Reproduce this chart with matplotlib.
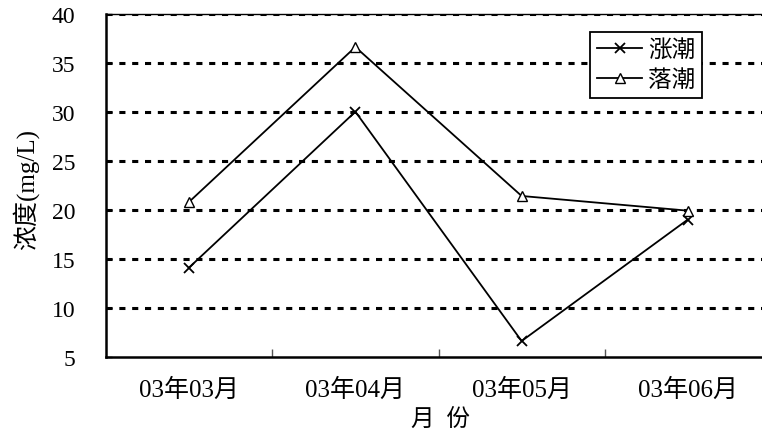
import matplotlib
matplotlib.use("Agg")
import matplotlib.pyplot as plt
from matplotlib.ticker import FixedLocator

categories = ["03年03月", "03年04月", "03年05月", "03年06月"]
flood_tide = [14.1, 30.0, 6.6, 19.0]   # 涨潮
ebb_tide = [20.8, 36.6, 21.4, 19.9]    # 落潮
series_names = ["涨潮", "落潮"]
y_ticks = [5, 10, 15, 20, 25, 30, 35, 40]
x_label = "月  份"
y_label = "浓度(mg/L)"

FAM = ["Liberation Serif", "Noto Sans CJK SC", "DejaVu Sans"]
plt.rcParams["font.family"] = FAM

W, H = 762, 435
fig = plt.figure(figsize=(W / 100, H / 100), dpi=100)
left, right, top, bottom = 106, 771, 14.7, 357.7
ax = fig.add_axes([left / W, 1 - bottom / H, (right - left) / W, (bottom - top) / H])

x = list(range(len(categories)))
ax.plot(x, flood_tide, color="black", lw=1.3, marker="x", ms=7, mew=1.3,
        label=series_names[0], zorder=3)
ax.plot(x, ebb_tide, color="black", lw=1.3, marker="^", ms=7, mew=1.0,
        mfc="white", label=series_names[1], zorder=3)

ax.set_xlim(-0.5, len(categories) - 0.5)
ax.set_ylim(5, 40)
ax.set_yticks(y_ticks)
ax.set_yticklabels([str(v) for v in y_ticks], fontsize=17)
ax.set_xticks(x)
ax.set_xticklabels(categories, fontsize=18)
ax.xaxis.set_minor_locator(FixedLocator([i + 0.5 for i in range(len(categories) - 1)]))
ax.tick_params(axis="x", which="major", length=0, pad=15)
ax.tick_params(axis="x", which="minor", direction="in", length=6, width=1, color="#555555")
ax.tick_params(axis="y", direction="in", length=4, width=1, pad=22)

for v in y_ticks[1:]:
    ax.axhline(v, color="black", lw=2.2, ls=(0, (2, 2.2)), zorder=1)

ax.spines["right"].set_visible(False)
ax.spines["top"].set_linewidth(1.0)
ax.spines["left"].set_linewidth(1.8)
ax.spines["bottom"].set_linewidth(1.8)

fig.text(440 / W, 1 - 420 / H, x_label, fontsize=17, ha="center", va="center")
fig.text(26 / W, 1 - 190 / H, y_label, fontsize=18, rotation=90, ha="center", va="center")

leg = ax.legend(loc="upper left",
                bbox_to_anchor=((590 - left) / (right - left), 1 - (33 - top) / (bottom - top)),
                frameon=True, fancybox=False, edgecolor="black", framealpha=1,
                fontsize=17, handlelength=1.9, handletextpad=0.25, borderpad=0.3,
                labelspacing=0.35, borderaxespad=0)
leg.get_frame().set_linewidth(1.3)

fig.savefig("out.png", dpi=100)
